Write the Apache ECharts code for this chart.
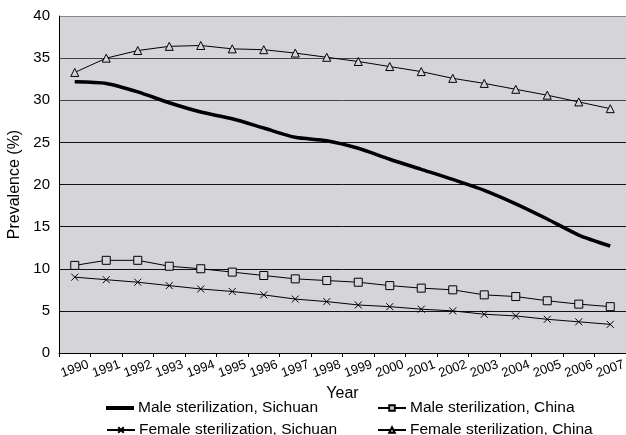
<!DOCTYPE html>
<html>
<head>
<meta charset="utf-8">
<script src="https://cdn.jsdelivr.net/npm/echarts@6/dist/echarts.min.js"></script>
<style>
  html, body { margin: 0; padding: 0; background: #fff; }
  #chart { width: 626px; height: 435px; }
</style>
</head>
<body>
<div id="chart"></div>
<script>
// years on the x axis
const years = [
  "1990", "1991", "1992", "1993", "1994", "1995", "1996", "1997", "1998",
  "1999", "2000", "2001", "2002", "2003", "2004", "2005", "2006", "2007",
];

// prevalence (%)
const maleSichuan = [
  32.2, 32.0, 31.0, 29.7, 28.6, 27.8, 26.7, 25.6, 25.2,
  24.3, 23.0, 21.8, 20.6, 19.3, 17.7, 15.9, 14.0, 12.7,
];
const maleChina = [
  10.4, 11.0, 11.0, 10.3, 10.0, 9.6, 9.2, 8.8, 8.6,
  8.4, 8.0, 7.7, 7.5, 6.9, 6.7, 6.2, 5.8, 5.5,
];
const femaleSichuan = [
  9.0, 8.7, 8.4, 8.0, 7.6, 7.3, 6.9, 6.4, 6.1,
  5.7, 5.5, 5.2, 5.0, 4.6, 4.4, 4.0, 3.7, 3.4,
];
const femaleChina = [
  33.3, 35.0, 35.9, 36.4, 36.5, 36.1, 36.0, 35.6, 35.1,
  34.6, 34.0, 33.4, 32.6, 32.0, 31.3, 30.6, 29.8, 29.0,
];

const names = [
  "Male sterilization, Sichuan",
  "Male sterilization, China",
  "Female sterilization, Sichuan",
  "Female sterilization, China",
];

const bg = "#d5d5d9";
const font = "Liberation Sans, Arial, sans-serif";
const crossPath = "path://M0,0L10,10M10,0L0,10";

const chart = echarts.init(document.getElementById("chart"), null, { renderer: "canvas" });

// one legend per entry so they sit in two columns
const legendPos = [
  { left: 106, top: 400 },
  { left: 377, top: 400 },
  { left: 106, top: 422 },
  { left: 377, top: 422 },
];
const legends = names.map((n, i) => ({
  data: i === 0 ? [{ name: n, icon: "rect" }] : [n],
  left: legendPos[i].left,
  top: legendPos[i].top,
  itemWidth: 28,
  itemHeight: i === 0 ? 4 : 7,
  itemGap: 0,
  textStyle: {
    fontFamily: font, fontSize: 15.5, color: "#000",
    lineHeight: 16, padding: [i === 0 ? -6 : -4, 0, 0, -1],
  },
  padding: 0,
}));

const thin = { color: "#000", width: 1 };

const option = {
  animation: false,
  textStyle: { fontFamily: font },
  legend: legends,
  grid: {
    left: 59,
    right: 0,
    top: 16,
    bottom: 82,
    outerBoundsMode: "none",
    show: true,
    backgroundColor: bg,
    borderWidth: 0,
  },
  xAxis: {
    type: "category",
    data: years,
    boundaryGap: true,
    name: "Year",
    nameLocation: "middle",
    nameGap: 32,
    nameTextStyle: { fontFamily: font, fontSize: 16, color: "#000" },
    axisLine: { lineStyle: { color: "#000", width: 1 } },
    axisTick: { show: true, length: 4, interval: 0, lineStyle: { color: "#000" } },
    axisLabel: {
      interval: 0,
      rotate: 20,
      align: "center",
      verticalAlign: "middle",
      margin: 16,
      fontFamily: font,
      fontSize: 13,
      color: "#000",
    },
  },
  yAxis: {
    type: "value",
    min: 0,
    max: 40,
    interval: 5,
    name: "Prevalence (%)",
    nameLocation: "middle",
    nameGap: 33,
    nameTextStyle: { fontFamily: font, fontSize: 16, color: "#000" },
    axisLine: { show: true, lineStyle: { color: "#000", width: 1 } },
    axisTick: { show: false },
    axisLabel: { fontFamily: font, fontSize: 15, color: "#000", margin: 9 },
    splitLine: {
      lineStyle: {
        color: ["#000", "#111", "#111", "#111", "#111", "#111", "#444", "#444", "#888"],
        width: 1,
      },
    },
  },
  series: [
    {
      name: names[0],
      type: "line",
      data: maleSichuan,
      smooth: 0.25,
      symbol: "none",
      lineStyle: { color: "#000", width: 3.5 },
      itemStyle: { color: "#000" },
      z: 5,
    },
    {
      name: names[1],
      type: "line",
      data: maleChina,
      symbol: "rect",
      symbolSize: 8,
      lineStyle: thin,
      itemStyle: { color: bg, borderColor: "#000", borderWidth: 1 },
    },
    {
      name: names[2],
      type: "line",
      data: femaleSichuan,
      symbol: crossPath,
      symbolSize: 7,
      lineStyle: thin,
      itemStyle: { color: "#000", borderColor: "#000", borderWidth: 1 },
    },
    {
      name: names[3],
      type: "line",
      data: femaleChina,
      symbol: "triangle",
      symbolSize: 8,
      lineStyle: thin,
      itemStyle: { color: bg, borderColor: "#000", borderWidth: 1 },
    },
  ],
};

chart.setOption(option);
</script>
</body>
</html>
